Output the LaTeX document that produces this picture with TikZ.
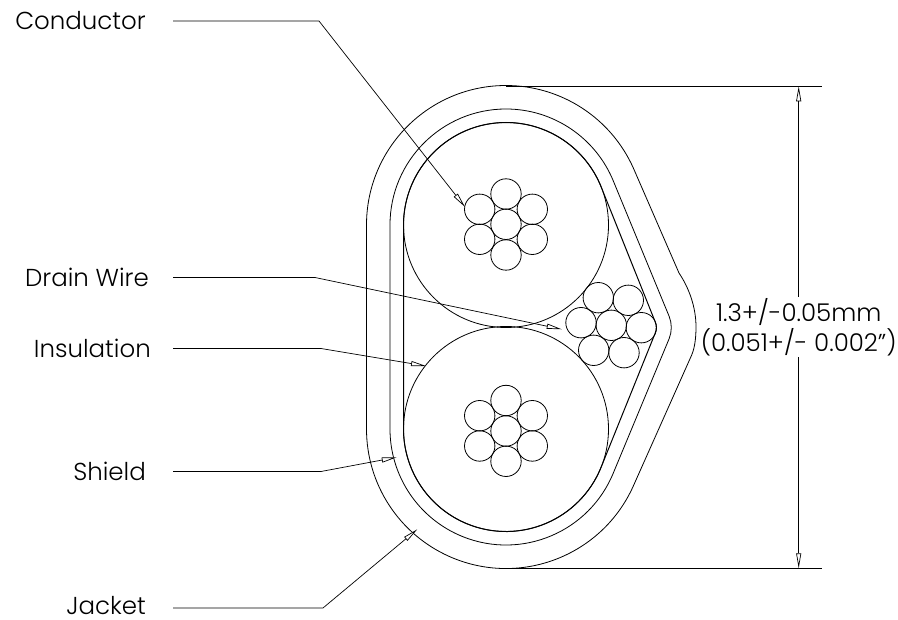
\documentclass[tikz,border=0pt]{standalone}
\usepackage{fontspec}
\setmainfont{Poppins}[UprightFont=*-Light]
\usetikzlibrary{arrows.meta,calc}
\tikzset{strand/.style = {circle, line width=0.8pt, minimum size=30.4pt, inner sep=0pt, outer sep=0pt, draw},
           ins/.style = {circle, line width=0.8pt, minimum size=205pt, inner sep=0pt, outer sep=0pt, draw},
           lbl/.style = {anchor=east, inner ysep=0pt, font=\fontsize{24.5}{29}\selectfont, text=black},
           layer/.style = {line width=0.8pt},
           leader/.style = {line width=0.7pt, ->}}

\begin{document}
\begin{tikzpicture}[x=1pt, y=-1pt, >={Triangle[open, fill=white, length=15pt, width=5pt]}]
    \useasboundingbox (0,0) rectangle (898,620);
    \coordinate (topc) at (506,225); \coordinate (botc) at (506,429); \coordinate (apex) at (641.3,327.5);
    \node[ins] (instop) at (topc) {};
    \node[ins] (insbot) at (botc) {};
    \node[strand] (a0) at (506,224.3) {}; \node[strand] (a1) at (506,194) {}; \node[strand] (a2) at (532.3,209.3) {};
    \node[strand] (a3) at (532.3,239.3) {}; \node[strand] (a4) at (506,255) {}; \node[strand] (a5) at (479.7,239.3) {};
    \node[strand] (a6) at (479.7,209.3) {};
    \node[strand] (b0) at (506,431) {}; \node[strand] (b1) at (506,400.5) {}; \node[strand] (b2) at (532.3,415.7) {};
    \node[strand] (b3) at (532.3,446) {}; \node[strand] (b4) at (506,461.3) {}; \node[strand] (b5) at (479.7,446) {};
    \node[strand] (b6) at (479.7,415.7) {};
    \node[strand] (d0) at (611.3,325.3) {}; \node[strand] (d1) at (598.3,297.7) {}; \node[strand] (d2) at (628.3,300.3) {};
    \node[strand] (d3) at (641.3,327.7) {}; \node[strand] (d4) at (624,352.7) {}; \node[strand] (d5) at (593.7,350.3) {};
    \node[strand] (d6) at (581,322.7) {};
    \draw[layer, line width=1pt] (topc) ++(180:102.5) arc[start angle=180, end angle=338, radius=102.5]
      -- ($(apex)+(338:15)$) arc[start angle=338, end angle=382, radius=15]
      -- ($(botc)+(22:102.5)$) arc[start angle=22, end angle=180, radius=102.5] -- cycle;
    \draw[layer] (topc) ++(180:116) arc[start angle=180, end angle=338, radius=116]
      -- ($(apex)+(338:30)$) arc[start angle=338, end angle=382, radius=30]
      -- ($(botc)+(22:116)$) arc[start angle=22, end angle=180, radius=116] -- cycle;
    \draw[layer] (topc) ++(180:139.5) arc[start angle=180, end angle=336, radius=139.5]
      -- (679,273) .. controls (689,288) and (696,307) .. (696,327) .. controls (696,337) and (695,347) .. (691.7,355)
      -- ($(botc)+(24:139.5)$) arc[start angle=24, end angle=180, radius=139.5] -- cycle;
    \node[lbl, inner xsep=27pt] (conductor) at (173,21) {Conductor};
    \node[lbl, inner xsep=24pt] (drain) at (173,277.5) {Drain Wire};
    \node[lbl, inner xsep=22pt] (insulation) at (173,348.5) {Insulation};
    \node[lbl, inner xsep=27pt] (shield) at (173,471.5) {Shield};
    \node[lbl, inner xsep=27pt] (jacket) at (173,606) {Jacket};
    \coordinate (k1) at (319,21); \coordinate (t1) at (465,207);
    \coordinate (k2) at (315,277.5); \coordinate (t2) at (561.7,329.3);
    \coordinate (k3) at (321,348.5); \coordinate (t3) at (426,366);
    \coordinate (k4) at (321,471.5); \coordinate (t4) at (396.7,457.3);
    \coordinate (k5) at (323,608); \coordinate (t5) at (417.3,529.3);
    \draw[leader] (conductor.east) -- (k1) -- (t1);
    \draw[leader] (drain.east) -- (k2) -- (t2);
    \draw[leader] (insulation.east) -- (k3) -- (t3);
    \draw[leader] (shield.east) -- (k4) -- (t4);
    \draw[leader] (jacket.east |- k5) -- (k5) -- (t5);
    \node[align=center, inner sep=0pt, minimum height=60pt, font=\fontsize{24.5}{30}\selectfont, text=black] (dim) at (798.7,327) {1.3+/-0.05mm\\(0.051+/- 0.002")};
    \coordinate (e1) at (506,86.3); \coordinate (e2) at (822,86.3); \coordinate (e3) at (506,568.3); \coordinate (e4) at (822,568.3);
    \coordinate (dtop) at (798.7,86.3); \coordinate (dbot) at (798.7,568.3);
    \draw[layer] (e1) -- (e2);
    \draw[layer] (e3) -- (e4);
    \draw[leader] (dim.north) -- (dtop);
    \draw[leader] (dim.south) -- (dbot);
  \end{tikzpicture}
\end{document}
